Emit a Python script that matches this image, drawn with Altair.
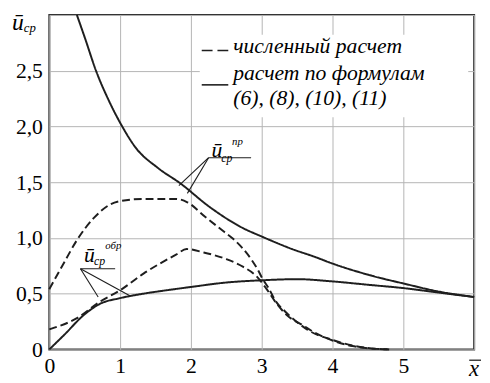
import altair as alt
import pandas as pd

# ---- data ----
# solid, upper ("пр", formulas)
x_pr_formula = [0.39, 0.5, 0.66, 0.85, 1.03, 1.22, 1.53, 1.85, 2.26, 2.73, 3.01, 3.43, 3.75, 4.0, 4.56, 5.01, 5.49, 6.0]
y_pr_formula = [3.0, 2.8, 2.5, 2.22, 2.0, 1.81, 1.63, 1.49, 1.28, 1.09, 1.01, 0.90, 0.83, 0.77, 0.66, 0.59, 0.52, 0.47]
# solid, lower ("обр", formulas)
x_obr_formula = [0.0, 0.21, 0.49, 0.72, 1.0, 1.33, 1.65, 2.0, 2.5, 3.0, 3.5, 4.0, 4.5, 5.0, 5.5, 6.0]
y_obr_formula = [0.0, 0.13, 0.31, 0.41, 0.46, 0.50, 0.53, 0.56, 0.60, 0.62, 0.63, 0.61, 0.58, 0.55, 0.51, 0.47]
# dashed, upper ("пр", numerical)
x_pr_calc = [0.0, 0.21, 0.39, 0.63, 0.86, 1.0, 1.33, 1.79, 1.95, 2.2, 2.46, 2.6, 2.74, 2.85, 2.94, 3.01, 3.1, 3.19, 3.33, 3.47, 3.65, 4.0, 4.28, 4.5, 4.8]
y_pr_calc = [0.54, 0.78, 0.98, 1.18, 1.30, 1.33, 1.35, 1.35, 1.32, 1.19, 1.06, 0.99, 0.90, 0.81, 0.72, 0.635, 0.547, 0.44, 0.34, 0.26, 0.175, 0.085, 0.035, 0.012, 0.0]
# dashed, lower ("обр", numerical)
x_obr_calc = [0.0, 0.39, 0.72, 1.0, 1.33, 1.79, 1.94, 2.18, 2.5, 2.74, 2.92, 3.06, 3.2, 3.35, 3.57, 3.75, 4.0, 4.28, 4.5, 4.8]
y_obr_calc = [0.18, 0.28, 0.43, 0.53, 0.68, 0.85, 0.90, 0.87, 0.81, 0.74, 0.66, 0.55, 0.42, 0.31, 0.22, 0.15, 0.08, 0.03, 0.01, 0.0]

x_ticks = [0, 1, 2, 3, 4, 5, 6]
y_ticks = [0, 0.5, 1.0, 1.5, 2.0, 2.5, 3.0]

legend_lines = ["численный расчет", "расчет по формулам", "(6), (8), (10), (11)"]

FONT = "Liberation Serif"
INK = "#1e1e1e"
W, H = 432, 340

def frame(xs, ys, name):
    return pd.DataFrame({"x": xs, "y": ys, "s": name})

xs = alt.Scale(domain=[0, 6], nice=False)
ys = alt.Scale(domain=[0, 3], nice=False)

x_axis = alt.Axis(values=x_ticks, title=None, grid=True, labelFlush=False, labelOverlap=False,
                  format="d", labelExpr="datum.value == 6 ? '' : datum.label", labelPadding=6,
                  labelFontSize=22, labelFont=FONT, domain=False, ticks=False,
                  gridColor="#b4b4b4", gridWidth=1, labelColor="black")
y_axis = alt.Axis(values=y_ticks, title=None, grid=True, labelFlush=False, labelOverlap=False,
                  labelExpr="datum.value == 0 ? '0' : (datum.value == 3 ? '' : replace(format(datum.value, '.1f'), '.', ','))",
                  labelPadding=7, labelFontSize=22, labelFont=FONT, domain=False, ticks=False,
                  gridColor="#b4b4b4", gridWidth=1, labelColor="black")

def curve(df, dashed):
    m = alt.Chart(df).mark_line(color=INK, strokeWidth=2,
                                strokeDash=[8, 4] if dashed else [1, 0],
                                interpolate="monotone")
    return m.encode(x=alt.X("x:Q", scale=xs, axis=x_axis),
                    y=alt.Y("y:Q", scale=ys, axis=y_axis),
                    order="x:Q")

base = curve(frame(x_pr_formula, y_pr_formula, "a"), False)

# white legend box
box = alt.Chart(pd.DataFrame({"a": [0]})).mark_rect(color="white").encode(
    x=alt.value(153), x2=alt.value(426), y=alt.value(20), y2=alt.value(104))

def ptext(t, x, y, size, style="italic", align="left"):
    return alt.Chart(pd.DataFrame({"t": [t]})).mark_text(
        font=FONT, fontSize=size, fontStyle=style, align=align
    ).encode(text="t:N", x=alt.value(x), y=alt.value(y))

def prule(x1, x2, y, dash=None, width=1.6):
    kw = dict(color=INK, strokeWidth=width)
    if dash:
        kw["strokeDash"] = dash
    return alt.Chart(pd.DataFrame({"a": [0]})).mark_rule(**kw).encode(
        x=alt.value(x1), x2=alt.value(x2), y=alt.value(y), y2=alt.value(y))

legend = [
    prule(155, 182, 36, [11, 5]),
    prule(155, 182, 71),
    ptext(legend_lines[0], 187, 32, 22),
    ptext(legend_lines[1], 187, 59, 22),
    ptext(legend_lines[2], 187, 84, 22),
]

# data-anchored annotations (leaders)
ann_rules = pd.DataFrame({
    "x": [2.25, 2.25, 2.25, 0.44, 0.44, 0.44],
    "y": [1.72, 1.72, 1.72, 0.724, 0.724, 0.724],
    "x2": [2.85, 1.83, 1.95, 0.93, 0.69, 1.15],
    "y2": [1.72, 1.47, 1.40, 0.724, 0.47, 0.476],
})
leaders = alt.Chart(ann_rules).mark_rule(color=INK, strokeWidth=1.1).encode(
    x=alt.X("x:Q", scale=xs), y=alt.Y("y:Q", scale=ys), x2="x2:Q", y2="y2:Q")

def dtext(t, x, y, size):
    return alt.Chart(pd.DataFrame({"t": [t], "x": [x], "y": [y]})).mark_text(
        font=FONT, fontSize=size, fontStyle="italic", align="left"
    ).encode(text="t:N", x=alt.X("x:Q", scale=xs), y=alt.Y("y:Q", scale=ys))

annots = [
    dtext("ū", 2.29, 1.79, 22),
    dtext("ср", 2.43, 1.72, 12),
    dtext("пр", 2.58, 1.86, 11),
    dtext("ū", 0.49, 0.845, 22),
    dtext("ср", 0.63, 0.79, 12),
    dtext("обр", 0.79, 0.93, 11),
]

axis_text = [
    ptext("ū", -38, 8, 24),
    ptext("ср", -26, 13, 13),
    ptext("x", W, H + 20, 23, align="center"),
    prule(W - 5, W + 7, H + 11, width=1.3),
]

chart = alt.layer(
    box,
    base,
    curve(frame(x_obr_formula, y_obr_formula, "b"), False),
    curve(frame(x_pr_calc, y_pr_calc, "c"), True),
    curve(frame(x_obr_calc, y_obr_calc, "d"), True),
    leaders,
    *legend,
    *annots,
    *axis_text,
).properties(
    width=W, height=H,
    autosize=alt.AutoSizeParams(type="none"),
    padding={"left": 42, "top": 4, "right": 8, "bottom": 30},
    view=alt.ViewBackground(stroke="#333", strokeWidth=2),
)

chart.save("out.html", embed_options={"renderer": "svg", "actions": False})
